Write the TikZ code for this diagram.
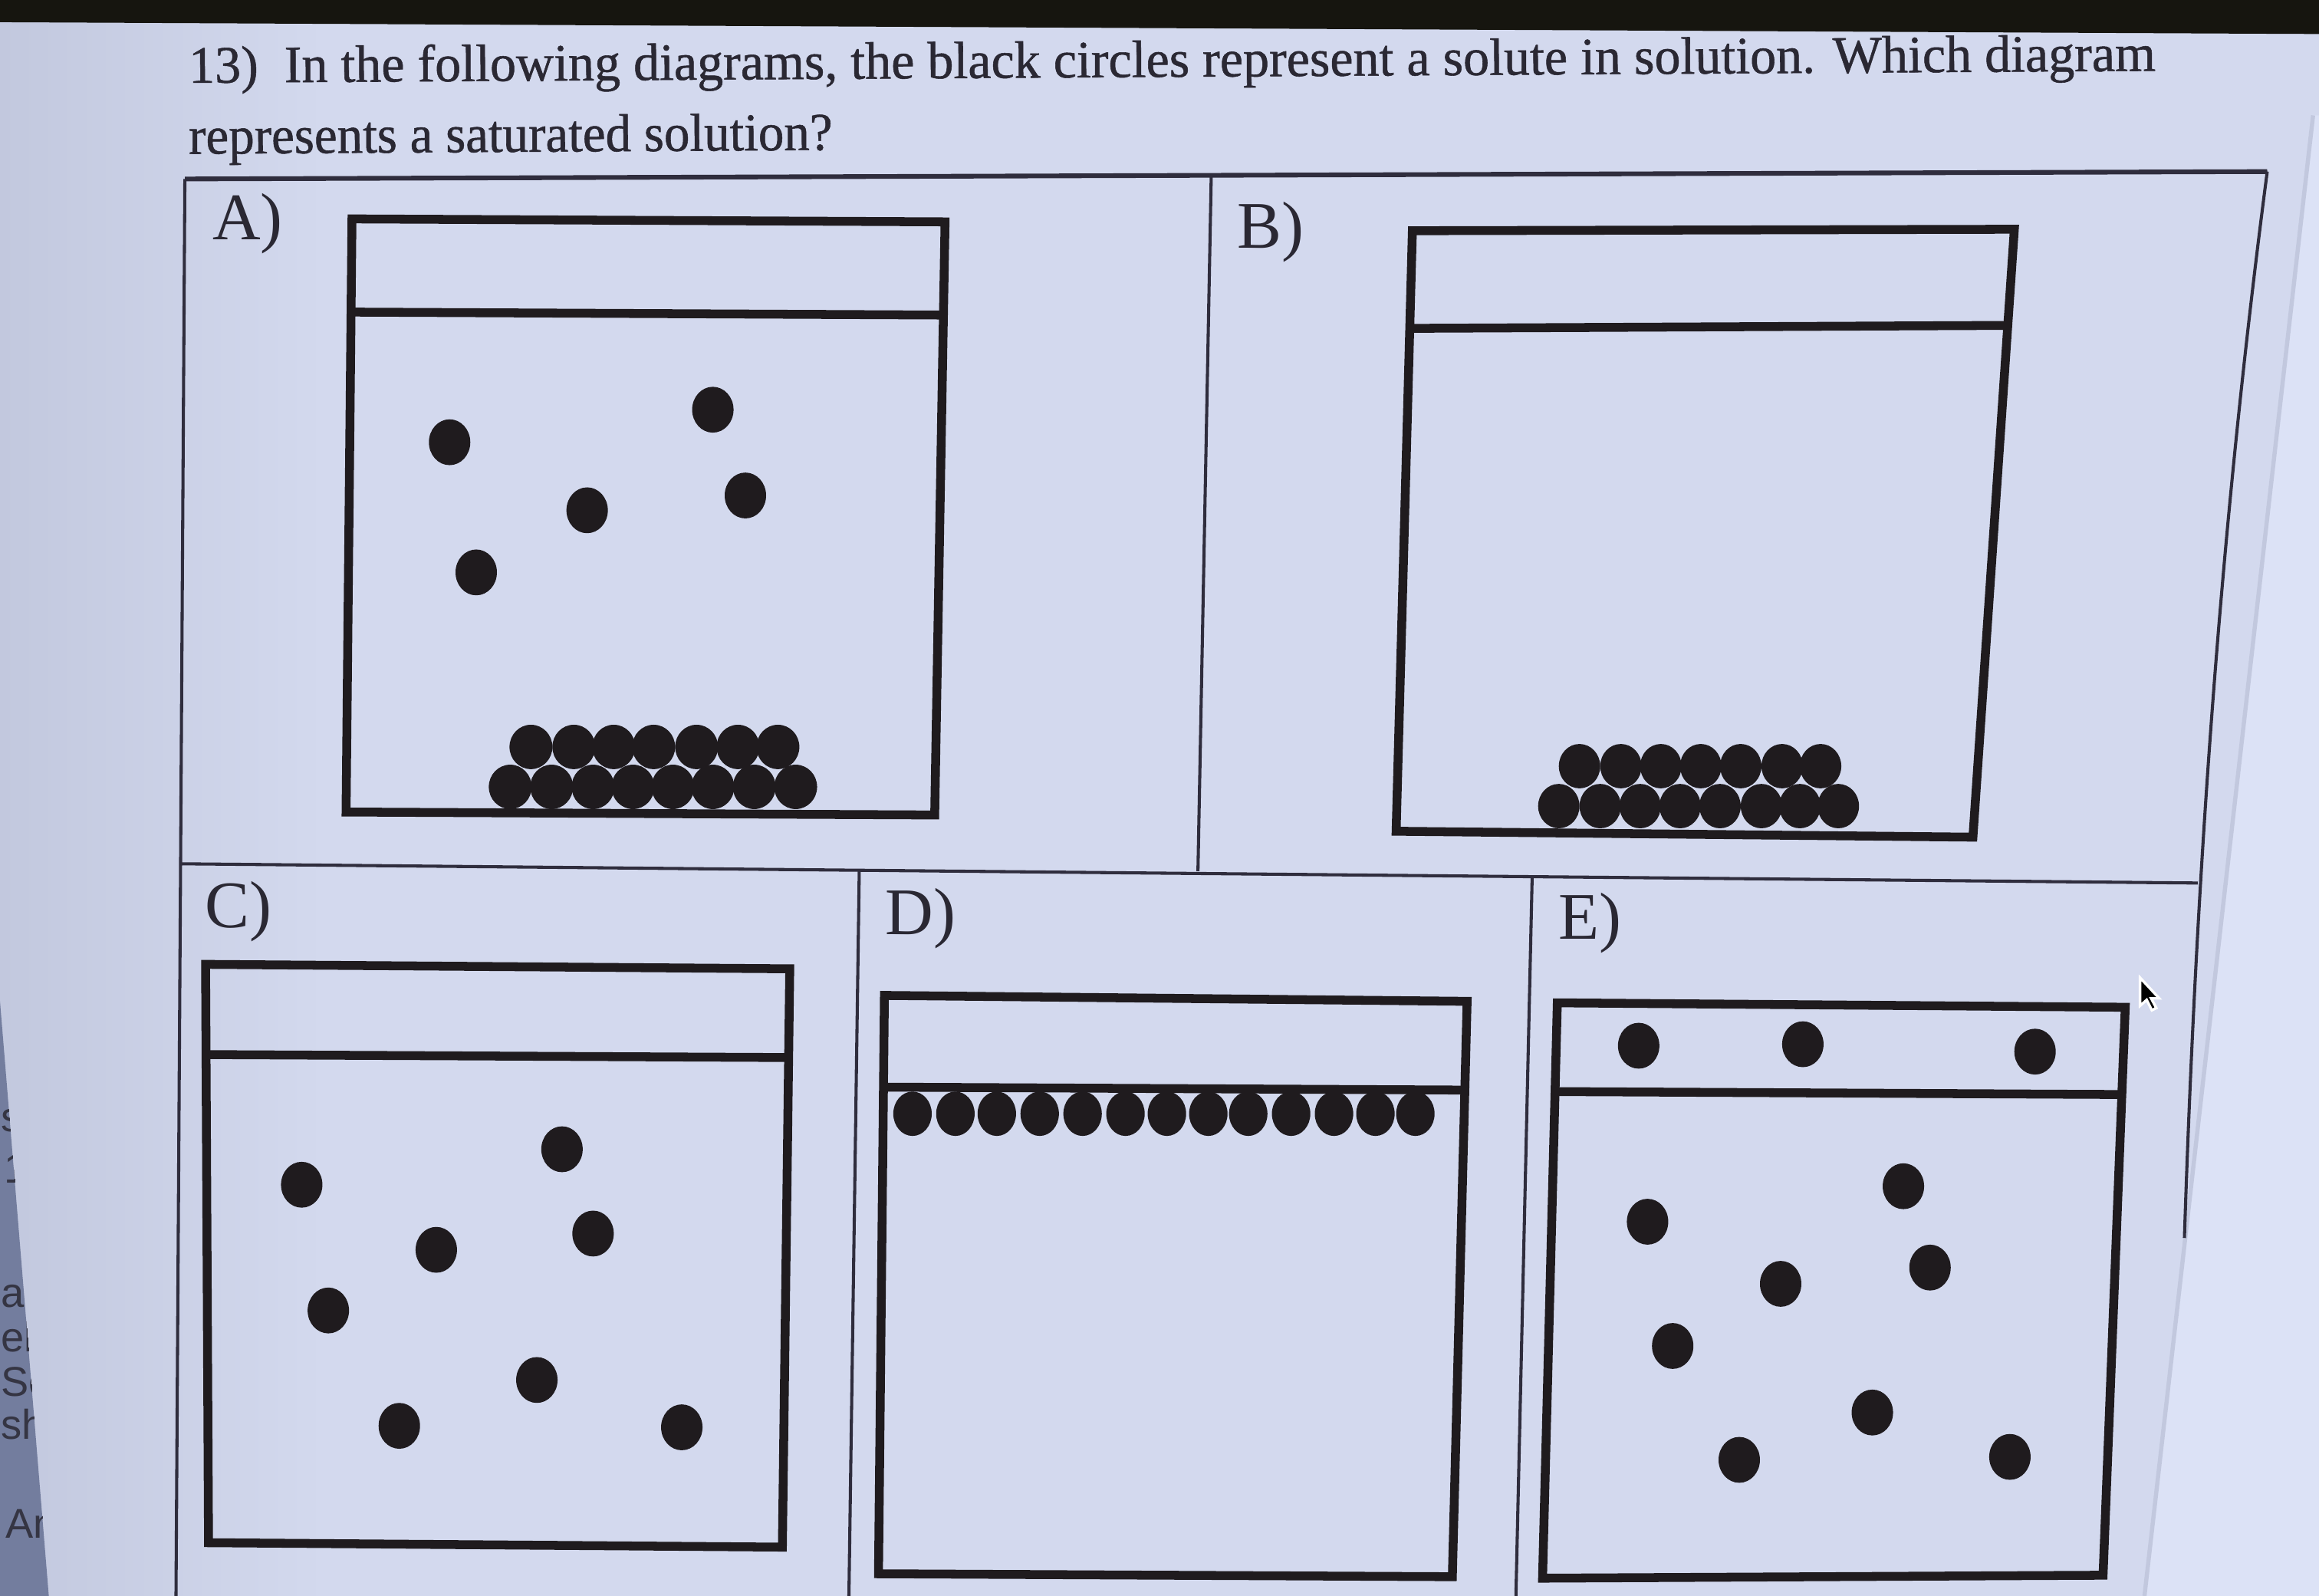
\documentclass[tikz,border=0pt]{standalone}
\usepackage{fontspec}
\usepackage{graphicx}
\setmainfont{Liberation Serif}
\newfontfamily\printfont{Liberation Serif}[FakeBold=0.8]
\newfontfamily\screenfont{Liberation Sans}
\definecolor{paper}{HTML}{D3D9EE}
\definecolor{paperdk}{HTML}{C2C8DE}
\definecolor{sheet}{HTML}{DCE2F6}
\definecolor{desk}{HTML}{737D9E}
\definecolor{band}{HTML}{16150F}
\definecolor{ink}{HTML}{1F1B1E}
\definecolor{print}{HTML}{2A2833}
\definecolor{rulec}{HTML}{2F2D3D}

\begin{document}
\begin{tikzpicture}[x=0.01cm, y=-0.01cm,
    beaker/.style={draw=ink, line width=1.7pt, line join=miter},
    rule/.style={draw=rulec, line width=0.6pt},
    solute/.style={fill=ink},
    stem/.style={text=print, font=\printfont, anchor=base west, inner sep=0pt},
    tag/.style={text=print, font=\fontsize{12.8}{14}\selectfont, anchor=base west, inner sep=0pt},
    frag/.style={text=print!85!desk, font=\screenfont\fontsize{8}{9}\selectfont, anchor=base west, inner sep=0pt}]

  \useasboundingbox (0,0) rectangle (1568,1079);

  % Photo surroundings: paper, dark top, desk on the left, next sheet on the right.
  \fill[paper] (0,0) rectangle (1568,1079);
  \shade[left color=paperdk, right color=paper] (0,0) rectangle (220,1079);
  \fill[sheet] (1564,78) -- (1450,1079) -- (1568,1079) -- (1568,78) -- cycle;
  \draw[paperdk, line width=0.8pt] (1564,78) -- (1450,1079);
  \fill[band] (0,0) -- (1568,0) -- (1568,23) -- (0,15) -- cycle;
  \fill[desk] (0,677) -- (33,1079) -- (0,1079) -- cycle;
  \begin{scope}
    \clip (0,677) -- (33,1079) -- (0,1079) -- cycle;
    \node[frag] (f1) at (0,765) {s};
    \node[frag] (f2) at (2,800) {1};
    \node[frag] (f3) at (0,884) {a};
    \node[frag] (f4) at (0,914) {elp};
    \node[frag] (f5) at (0,944) {Sele};
    \node[frag] (f6) at (0,973) {she};
    \node[frag] (f7) at (3,1040) {Ans};
  \end{scope}

  % Question text.
  \node[stem, rotate=0.35] (stem1) at (127,56)
    {\resizebox{13.29cm}{0.25cm}{13)\enspace In the following diagrams, the black circles represent a solute in solution. Which diagram}};
  \node[stem, rotate=0.35] (stem2) at (127,104)
    {\resizebox{4.35cm}{0.25cm}{represents a saturated solution?}};

  % Answer grid.
  \draw[rule, line width=0.9pt] (125,121) -- (1533,116);
  \draw[rule] (125,121) -- (119,1079);
  \draw[rule] (1533,116) .. controls (1505,330) and (1486,560) .. (1477,837);
  \draw[rule] (122,584) -- (1486,597);
  \draw[rule] (819,118) -- (810,589);
  \draw[rule] (581,588) -- (574,1079);
  \draw[rule] (1036,592) -- (1025,1079);

  \node[tag] (labA) at (143,162) {A)};
  \node[tag] (labB) at (836,168) {B)};
  \node[tag] (labC) at (138,627) {C)};
  \node[tag] (labD) at (598,632) {D)};
  \node[tag] (labE) at (1053,635) {E)};

  % Beakers (outline + liquid surface).
  \draw[beaker] (238,148) -- (639,150) -- (632,551) -- (234,549) -- cycle;
  \draw[beaker] (237,211) -- (638,213);
  \draw[beaker] (955,156) -- (1362,155) -- (1334,566) -- (944,562) -- cycle;
  \draw[beaker] (954,222) -- (1358,220);
  \draw[beaker] (139,652) -- (534,655) -- (529,1046) -- (141,1043) -- cycle;
  \draw[beaker] (140,713) -- (532,715);
  \draw[beaker] (598,673) -- (992,677) -- (982,1066) -- (594,1064) -- cycle;
  \draw[beaker] (597,735) -- (991,737);
  \draw[beaker] (1053,678) -- (1437,681) -- (1422,1065) -- (1043,1067) -- cycle;
  \draw[beaker] (1052,738) -- (1435,740);

  % A: dissolved particles and a solid layer on the bottom.
  \foreach \x/\y in {304/299, 482/277, 397/345, 504/335, 322/387}
    \fill[solute] (\x,\y) ellipse (14 and 15.5);
  \foreach \x in {345,373,401,428,455,482,510,538}
    \fill[solute] (\x,532) ellipse (14.5 and 15);
  \foreach \x in {359,388,415,442,471,499,526}
    \fill[solute] (\x,505) ellipse (14.5 and 15);

  % B: only the solid layer.
  \foreach \x in {1054,1082,1109,1136,1163,1191,1217,1243}
    \fill[solute] (\x,545) ellipse (14 and 15);
  \foreach \x in {1068,1096,1123,1150,1177,1205,1231}
    \fill[solute] (\x,518) ellipse (14 and 15);

  % C: dissolved only.
  \foreach \x/\y in {204/801, 380/777, 295/845, 401/834, 222/886, 363/933, 270/964, 461/965}
    \fill[solute] (\x,\y) ellipse (14 and 15.5);

  % D: a row right under the surface.
  \foreach \x in {617,646,674,703,732,761,789,817,844,873,902,930,957}
    \fill[solute] (\x,753) ellipse (13 and 15);

  % E: some above the surface, the rest dissolved.
  \foreach \x/\y in {1108/707, 1219/706, 1376/711, 1287/802, 1114/826, 1305/857,
                     1204/868, 1131/910, 1266/955, 1176/987, 1359/985}
    \fill[solute] (\x,\y) ellipse (14 and 15.5);

  % Mouse pointer.
  \begin{scope}[shift={(1447,661)}]
    \filldraw[fill=black, draw=white, line width=0.5pt]
      (0,0) -- (0,19) -- (4.5,15) -- (8,22) -- (11,20.5) -- (7.5,14) -- (13,14) -- cycle;
  \end{scope}
\end{tikzpicture}
\end{document}
